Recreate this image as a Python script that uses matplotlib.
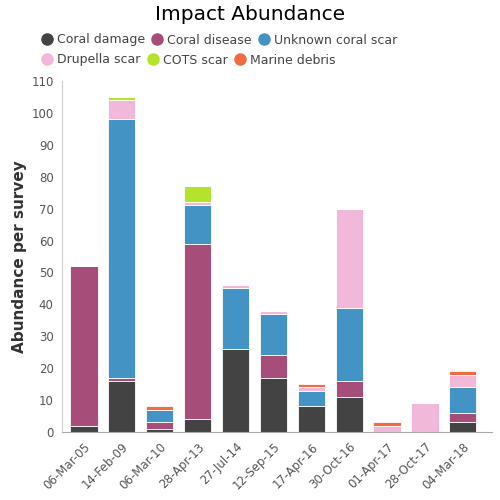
import matplotlib
matplotlib.use("Agg")
import matplotlib.pyplot as plt
from matplotlib.lines import Line2D
import numpy as np

dates = ["06-Mar-05", "14-Feb-09", "06-Mar-10", "28-Apr-13", "27-Jul-14", "12-Sep-15",
         "17-Apr-16", "30-Oct-16", "01-Apr-17", "28-Oct-17", "04-Mar-18"]
coral_damage = [2, 16, 1, 4, 26, 17, 8, 11, 0, 0, 3]
coral_disease = [50, 1, 2, 55, 0, 7, 0, 5, 0, 0, 3]
unknown_scar = [0, 81, 4, 12, 19, 13, 5, 23, 0, 0, 8]
drupella_scar = [0, 6, 0, 1, 1, 1, 1, 31, 2, 9, 4]
cots_scar = [0, 1, 0, 5, 0, 0, 0, 0, 0, 0, 0]
marine_debris = [0, 0, 1, 0, 0, 0, 1, 0, 1, 0, 1]

series = [
    ("Coral damage", coral_damage, "#434343"),
    ("Coral disease", coral_disease, "#a64d79"),
    ("Unknown coral scar", unknown_scar, "#4394c4"),
    ("Drupella scar", drupella_scar, "#f2b8da"),
    ("COTS scar", cots_scar, "#b5e22c"),
    ("Marine debris", marine_debris, "#f26b43"),
]

fig = plt.figure(figsize=(5, 5), dpi=100)
ax = fig.add_axes([0.124, 0.136, 0.86, 0.702])
x = np.arange(len(dates))
bottom = np.zeros(len(dates))
for name, vals, col in series:
    v = np.array(vals, dtype=float)
    ax.bar(x, v, bottom=bottom, width=0.72, color=col, edgecolor="white", linewidth=0.6)
    bottom += v

ax.set_xlim(-0.58, 10.77)
ax.set_ylim(0, 110)
ax.set_yticks(range(0, 111, 10))
ax.set_xticks(x)
ax.set_xticklabels(dates, rotation=45, ha="right", rotation_mode="anchor", fontsize=8.5, color="#555555")
ax.tick_params(axis="y", labelsize=8.5, colors="#555555", length=0, pad=6)
ax.tick_params(axis="x", length=0, pad=6)
for s in ["top", "right"]:
    ax.spines[s].set_visible(False)
ax.spines["left"].set_color("#cccccc")
ax.spines["bottom"].set_color("#aaaaaa")
ax.set_ylabel("Abundance per survey", fontsize=11, fontweight="bold", color="#333333", labelpad=3)

fig.text(0.5, 0.972, "Impact Abundance", ha="center", va="center", fontsize=14.5)

handles = [Line2D([0], [0], marker="o", linestyle="", markersize=8, markerfacecolor=c,
                  markeredgecolor=c) for _, _, c in series]
labels = [n for n, _, _ in series]
common = dict(ncol=3, frameon=False, fontsize=9, handletextpad=0.1, columnspacing=0.3,
              labelcolor="#444444", borderaxespad=0, handlelength=1.4)
fig.legend(handles[:3], labels[:3], loc="center left", bbox_to_anchor=(0.066, 0.92), **common)
fig.legend(handles[3:], labels[3:], loc="center left", bbox_to_anchor=(0.066, 0.88), **common)
fig.savefig("out.png", dpi=100)
